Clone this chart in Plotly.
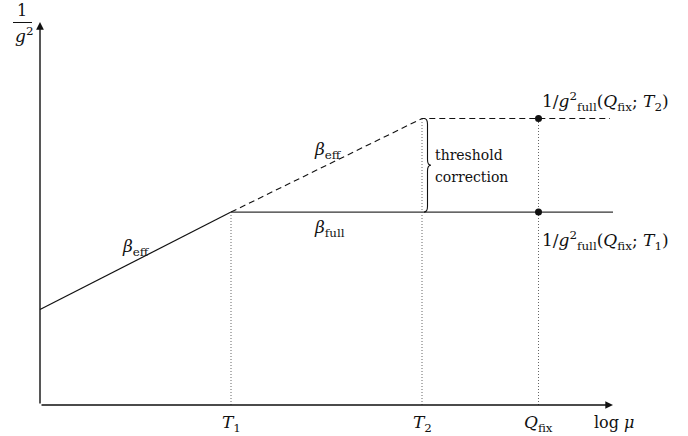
import plotly.graph_objects as go

# ---- data (schematic running of 1/g^2 vs log mu) ----
log_mu_start = 0.0
T1 = 1.0
T2 = 2.0
Q_fix = 2.61
log_mu_end = 3.0
inv_g2_start = 1.0
inv_g2_T1 = 2.02
inv_g2_T2 = 3.0
y_axis_top = 4.01

tick_x = [T1, T2, Q_fix]
tick_labels = ["<i>T</i><sub>1</sub>", "<i>T</i><sub>2</sub>", "<i>Q</i><sub>fix</sub>"]

# ---- layout helpers (pixel <-> data) ----
W, H = 688, 436
UX, OX = 191.0, 40.0
UY, OY = 95.5, 405.0
def X(px): return (px - OX) / UX
def Y(py): return (OY - py) / UY

FONT = "DejaVu Serif, Liberation Serif, serif"
BLACK = "#111111"

fig = go.Figure()

fig.add_trace(go.Scatter(x=[log_mu_start, T1], y=[inv_g2_start, inv_g2_T1], mode="lines",
                         line=dict(color=BLACK, width=1.2), hoverinfo="skip"))
fig.add_trace(go.Scatter(x=[T1, log_mu_end], y=[inv_g2_T1, inv_g2_T1], mode="lines",
                         line=dict(color="#333333", width=1.2), hoverinfo="skip"))
fig.add_trace(go.Scatter(x=[T1, T2, X(610)], y=[inv_g2_T1, inv_g2_T2, inv_g2_T2], mode="lines",
                         line=dict(color=BLACK, width=1.1, dash="6px,4px"), hoverinfo="skip"))
for tx, ty in [(T1, inv_g2_T1), (T2, inv_g2_T2), (Q_fix, inv_g2_T2)]:
    fig.add_trace(go.Scatter(x=[tx, tx], y=[0, ty], mode="lines",
                             line=dict(color="#555555", width=0.9, dash="1px,2px"), hoverinfo="skip"))
fig.add_trace(go.Scatter(x=[Q_fix, Q_fix], y=[inv_g2_T2, inv_g2_T1], mode="markers",
                         marker=dict(color=BLACK, size=7), hoverinfo="skip"))

fig.add_annotation(x=log_mu_end, y=0, ax=log_mu_start, ay=0, xref="x", yref="y", axref="x", ayref="y",
                   text="", showarrow=True, arrowhead=2, arrowsize=1.1, arrowwidth=1.4, arrowcolor=BLACK)
fig.add_annotation(x=log_mu_start, y=y_axis_top, ax=log_mu_start, ay=0, xref="x", yref="y", axref="x", ayref="y",
                   text="", showarrow=True, arrowhead=2, arrowsize=1.1, arrowwidth=1.4, arrowcolor=BLACK)

# curly brace
bx = T2 + X(OX + 2)
y_lo, y_hi = inv_g2_T1, inv_g2_T2
ym = (y_lo + y_hi) / 2
dx = 3.5 / UX
def P(x, y): return f"{x:.5f},{y:.5f}"
path = (f"M {P(bx, y_hi)} Q {P(bx+dx, y_hi)} {P(bx+dx, y_hi-0.06)} "
        f"L {P(bx+dx, ym+0.06)} Q {P(bx+dx, ym)} {P(bx+2*dx, ym)} "
        f"Q {P(bx+dx, ym)} {P(bx+dx, ym-0.06)} "
        f"L {P(bx+dx, y_lo+0.06)} Q {P(bx+dx, y_lo)} {P(bx, y_lo)}")
fig.add_shape(type="path", path=path, xref="x", yref="y", line=dict(color=BLACK, width=1.1))

def txt(px, py, s, size=15, xanchor="center"):
    fig.add_annotation(x=X(px), y=Y(py), text=s, showarrow=False, xref="x", yref="y",
                       xanchor=xanchor, yanchor="middle", font=dict(family=FONT, size=size, color=BLACK))

for tx, tl in zip(tick_x, tick_labels):
    txt(OX + tx * UX, 423, tl, size=17)
txt(614, 422, "log <i>μ</i>", size=16)

txt(22, 10, "1", size=16)
fig.add_shape(type="line", x0=X(13), x1=X(32), y0=Y(22.5), y1=Y(22.5), xref="x", yref="y",
              line=dict(color=BLACK, width=1))
txt(24, 35, "<i>g</i><sup>2</sup>", size=17)

txt(136, 247, "<i>β</i><sub>eff</sub>", size=17)
txt(328, 150, "<i>β</i><sub>eff</sub>", size=17)
txt(329, 228, "<i>β</i><sub>full</sub>", size=17)
txt(433, 155, "threshold", size=14, xanchor="left")
txt(433, 177, "correction", size=14, xanchor="left")
txt(540, 101, "1/<i>g</i><sup>2</sup><sub>full</sub>(<i>Q</i><sub>fix</sub>; <i>T</i><sub>2</sub>)", size=17, xanchor="left")
txt(540, 240, "1/<i>g</i><sup>2</sup><sub>full</sub>(<i>Q</i><sub>fix</sub>; <i>T</i><sub>1</sub>)", size=17, xanchor="left")

fig.update_layout(
    width=W, height=H, margin=dict(l=0, r=0, t=0, b=0),
    paper_bgcolor="white", plot_bgcolor="white", showlegend=False,
    xaxis=dict(visible=False, range=[X(0), X(W)], fixedrange=True),
    yaxis=dict(visible=False, range=[Y(H), Y(0)], fixedrange=True),
)
fig.write_html("out.html")
